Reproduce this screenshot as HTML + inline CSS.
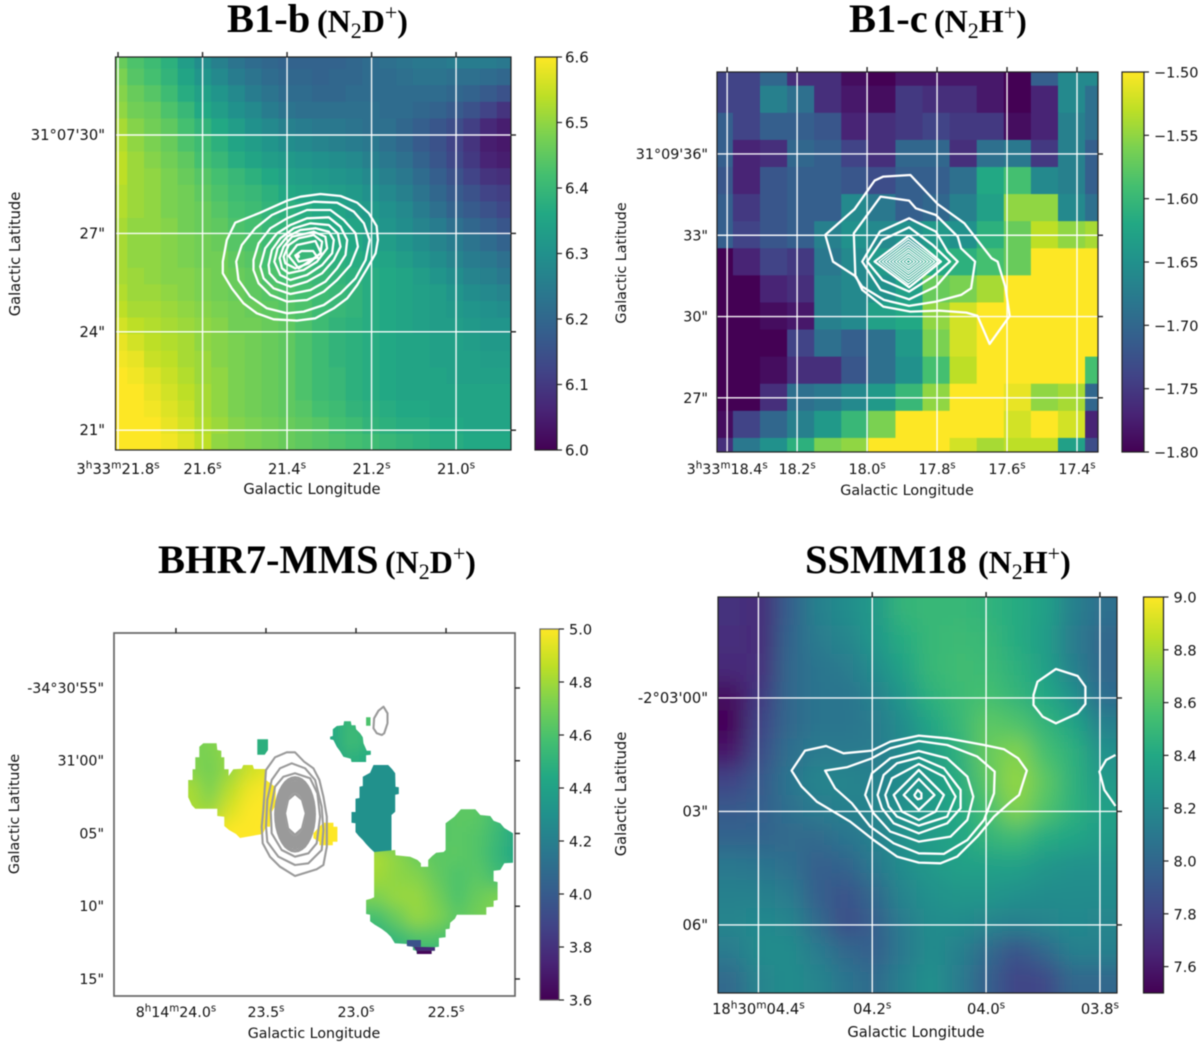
<!DOCTYPE html>
<html lang="en">
<head>
<meta charset="utf-8">
<title>Velocity maps with contours</title>
<style>
html,body{margin:0;padding:0;background:#fff;width:1200px;height:1047px;overflow:hidden}
svg{display:block;filter:blur(0.45px)}
.title{font-family:"Liberation Serif",serif;font-weight:bold;font-size:40.5px;fill:#000}
.mol{font-size:32px}
.sub{font-size:22px;font-weight:normal}
.lab{font-family:"DejaVu Sans",sans-serif;font-size:14.7px;fill:#111}
</style>
</head>
<body>
<svg id="fig" width="1200" height="1047" viewBox="0 0 1200 1047" xmlns="http://www.w3.org/2000/svg">
  <defs id="defs">
    <filter id="blurD" filterUnits="userSpaceOnUse" x="0" y="0" width="1200" height="1047"><feGaussianBlur stdDeviation="11"/></filter>
    <filter id="blurC" filterUnits="userSpaceOnUse" x="0" y="0" width="1200" height="1047"><feGaussianBlur stdDeviation="8"/></filter>
  </defs>
  <text class="title" x="227" y="32">B1-b<tspan class="mol" x="317">(N<tspan dy="6" class="sub">2</tspan><tspan dy="-6">D</tspan><tspan dy="-12" class="sub">+</tspan><tspan dy="12">)</tspan></tspan></text>
  <text class="title" x="849" y="32">B1-c<tspan class="mol" x="934">(N<tspan dy="6" class="sub">2</tspan><tspan dy="-6">H</tspan><tspan dy="-12" class="sub">+</tspan><tspan dy="12">)</tspan></tspan></text>
  <text class="title" x="158" y="573">BHR7-MMS<tspan class="mol" x="385">(N<tspan dy="6" class="sub">2</tspan><tspan dy="-6">D</tspan><tspan dy="-12" class="sub">+</tspan><tspan dy="12">)</tspan></tspan></text>
  <text class="title" x="805" y="573">SSMM18<tspan class="mol" x="978">(N<tspan dy="6" class="sub">2</tspan><tspan dy="-6">H</tspan><tspan dy="-12" class="sub">+</tspan><tspan dy="12">)</tspan></tspan></text>
</svg>
<script>
// ---------- Panel A (B1-b) data ----------
const aMatrix = [
[6.46,6.43,6.41,6.38,6.33,6.29,6.26,6.23,6.21,6.20,6.19,6.19,6.19,6.19,6.20,6.21,6.22,6.23,6.24,6.24,6.25,6.25,6.25,6.24],
[6.48,6.44,6.42,6.39,6.35,6.31,6.28,6.25,6.23,6.21,6.20,6.20,6.19,6.20,6.20,6.21,6.21,6.22,6.23,6.23,6.22,6.22,6.21,6.20],
[6.49,6.46,6.44,6.41,6.37,6.34,6.31,6.28,6.25,6.23,6.21,6.21,6.20,6.20,6.21,6.21,6.21,6.21,6.21,6.21,6.20,6.19,6.17,6.15],
[6.50,6.47,6.46,6.43,6.40,6.36,6.33,6.30,6.28,6.25,6.23,6.22,6.22,6.22,6.22,6.22,6.21,6.21,6.20,6.19,6.17,6.15,6.12,6.09],
[6.52,6.49,6.47,6.45,6.42,6.39,6.36,6.33,6.30,6.28,6.26,6.25,6.24,6.24,6.23,6.22,6.22,6.20,6.18,6.16,6.14,6.11,6.07,6.05],
[6.53,6.50,6.48,6.46,6.43,6.41,6.38,6.35,6.33,6.31,6.29,6.28,6.27,6.26,6.25,6.24,6.22,6.20,6.17,6.15,6.12,6.09,6.05,6.04],
[6.54,6.51,6.49,6.47,6.45,6.42,6.40,6.37,6.35,6.33,6.32,6.31,6.30,6.29,6.28,6.26,6.24,6.22,6.19,6.16,6.13,6.10,6.06,6.05],
[6.54,6.51,6.50,6.48,6.46,6.44,6.42,6.40,6.38,6.36,6.34,6.33,6.32,6.31,6.30,6.28,6.26,6.24,6.21,6.18,6.15,6.12,6.09,6.08],
[6.53,6.51,6.50,6.48,6.47,6.45,6.43,6.41,6.40,6.38,6.36,6.35,6.34,6.33,6.32,6.30,6.28,6.26,6.23,6.20,6.17,6.15,6.12,6.11],
[6.53,6.51,6.50,6.48,6.47,6.46,6.44,6.42,6.41,6.39,6.38,6.37,6.36,6.35,6.33,6.32,6.30,6.28,6.25,6.22,6.19,6.17,6.15,6.13],
[6.52,6.50,6.50,6.49,6.47,6.46,6.45,6.43,6.42,6.40,6.39,6.38,6.37,6.36,6.35,6.33,6.31,6.29,6.27,6.25,6.22,6.20,6.18,6.16],
[6.52,6.50,6.50,6.49,6.48,6.47,6.46,6.44,6.43,6.41,6.40,6.39,6.38,6.37,6.36,6.34,6.33,6.31,6.29,6.27,6.25,6.23,6.21,6.19],
[6.52,6.50,6.50,6.49,6.48,6.47,6.47,6.45,6.44,6.42,6.41,6.40,6.39,6.38,6.37,6.36,6.35,6.33,6.31,6.29,6.27,6.25,6.24,6.22],
[6.52,6.51,6.50,6.49,6.49,6.48,6.47,6.46,6.45,6.43,6.42,6.41,6.40,6.39,6.38,6.37,6.36,6.35,6.33,6.31,6.29,6.27,6.26,6.24],
[6.53,6.51,6.51,6.50,6.49,6.48,6.47,6.46,6.45,6.44,6.43,6.42,6.41,6.40,6.39,6.37,6.36,6.35,6.34,6.33,6.31,6.29,6.28,6.27],
[6.54,6.52,6.52,6.51,6.50,6.49,6.48,6.47,6.46,6.45,6.44,6.43,6.41,6.40,6.39,6.37,6.36,6.35,6.34,6.33,6.32,6.31,6.30,6.29],
[6.56,6.54,6.53,6.52,6.51,6.50,6.49,6.47,6.47,6.46,6.45,6.43,6.41,6.39,6.38,6.37,6.36,6.35,6.34,6.33,6.33,6.32,6.31,6.31],
[6.58,6.56,6.54,6.53,6.52,6.50,6.49,6.48,6.47,6.46,6.45,6.43,6.41,6.39,6.38,6.37,6.36,6.35,6.35,6.34,6.34,6.33,6.32,6.32],
[6.59,6.58,6.55,6.54,6.52,6.51,6.49,6.48,6.47,6.46,6.45,6.43,6.41,6.39,6.38,6.37,6.36,6.35,6.35,6.34,6.34,6.34,6.33,6.33],
[6.60,6.59,6.57,6.55,6.53,6.51,6.50,6.48,6.47,6.46,6.45,6.43,6.41,6.40,6.38,6.37,6.36,6.35,6.35,6.35,6.34,6.34,6.34,6.34],
[6.60,6.60,6.58,6.56,6.54,6.52,6.50,6.48,6.47,6.46,6.45,6.43,6.41,6.40,6.38,6.37,6.36,6.35,6.35,6.35,6.35,6.35,6.35,6.35],
[6.60,6.60,6.59,6.57,6.55,6.52,6.50,6.48,6.47,6.46,6.45,6.44,6.42,6.41,6.39,6.38,6.37,6.36,6.36,6.35,6.35,6.35,6.35,6.35],
[6.60,6.60,6.60,6.58,6.56,6.53,6.51,6.49,6.48,6.47,6.46,6.45,6.44,6.42,6.41,6.39,6.38,6.37,6.37,6.36,6.36,6.35,6.35,6.35],
[6.60,6.60,6.60,6.59,6.57,6.54,6.50,6.49,6.48,6.47,6.46,6.45,6.44,6.43,6.42,6.41,6.40,6.39,6.38,6.37,6.37,6.36,6.36,6.36]
];
const aXTicks = [21.8,21.6,21.4,21.2,21.0];
const aXLabels = ["3h33m21.8s","21.6s","21.4s","21.2s","21.0s"];
const aYTicks = [30,27,24,21];
const aYLabels = ["31°07'30\"","27\"","24\"","21\""];
const aBarTicks = [6.6,6.5,6.4,6.3,6.2,6.1,6.0];
const aBarLabels = ["6.6","6.5","6.4","6.3","6.2","6.1","6.0"];
// contour vertices: sky offsets from the panel reference position (offset units)
const aContours = [
[[105,98],[180,68],[260,32],[300,20],[360,12],[420,18],[470,38],[505,70],[528,108],[532,150],[525,190],[500,235],[470,285],[440,325],[400,355],[345,385],[290,392],[220,388],[170,370],[130,340],[95,295],[68,250],[68,215],[80,150]],
[[108,215],[125,165],[165,115],[215,75],[260,55],[340,35],[410,38],[460,65],[490,100],[507,150],[495,210],[465,265],[420,310],[370,345],[310,365],[260,370],[200,355],[150,320],[115,270]],
[[160,210],[175,160],[210,115],[260,85],[320,60],[390,60],[430,90],[465,130],[472,170],[450,225],[410,270],[370,305],[320,330],[260,335],[210,315],[175,280],[160,240]],
[[180,230],[195,175],[230,130],[270,105],[320,85],[385,82],[420,110],[440,150],[435,195],[410,235],[375,275],[330,300],[270,312],[220,295],[190,265]],
[[205,225],[215,180],[240,145],[280,115],[330,100],[385,105],[412,130],[420,170],[400,210],[365,250],[320,275],[270,290],[230,275],[208,250]],
[[222,215],[232,175],[260,140],[300,120],[345,115],[385,125],[400,150],[395,190],[365,225],[320,255],[270,270],[240,255]],
[[238,205],[250,170],[275,140],[340,125],[375,140],[380,175],[350,215],[310,240],[265,250],[245,235]],
[[250,200],[265,165],[295,145],[340,135],[365,155],[360,190],[325,220],[285,235],[255,220]],
[[265,198],[290,165],[345,153],[362,190],[295,235]],
[[285,197],[303,183],[338,183],[352,203],[295,215]],
[[291,197],[295,197],[295,201],[291,201]]
];

// ---------- Panel B (B1-c) data ----------
const bMatrix = [
[-1.74,-1.74,-1.70,-1.76,-1.76,-1.79,-1.80,-1.78,-1.78,-1.78,-1.78,-1.80,-1.71,-1.66,-1.66],
[-1.74,-1.74,-1.67,-1.69,-1.76,-1.78,-1.79,-1.75,-1.76,-1.76,-1.78,-1.80,-1.77,-1.66,-1.69],
[-1.71,-1.74,-1.71,-1.71,-1.72,-1.77,-1.76,-1.75,-1.74,-1.75,-1.75,-1.79,-1.77,-1.67,-1.69],
[-1.71,-1.77,-1.76,-1.70,-1.71,-1.74,-1.76,-1.70,-1.70,-1.76,-1.69,-1.68,-1.75,-1.67,-1.71],
[-1.72,-1.77,-1.72,-1.71,-1.71,-1.72,-1.73,-1.71,-1.71,-1.69,-1.62,-1.59,-1.66,-1.67,-1.71],
[-1.71,-1.75,-1.72,-1.71,-1.71,-1.66,-1.68,-1.71,-1.70,-1.67,-1.63,-1.55,-1.55,-1.66,-1.69],
[-1.71,-1.74,-1.72,-1.71,-1.67,-1.65,-1.66,-1.65,-1.64,-1.65,-1.61,-1.57,-1.53,-1.55,-1.54],
[-1.80,-1.77,-1.74,-1.75,-1.68,-1.66,-1.64,-1.63,-1.62,-1.61,-1.59,-1.57,-1.50,-1.50,-1.50],
[-1.80,-1.80,-1.77,-1.76,-1.67,-1.66,-1.65,-1.63,-1.57,-1.56,-1.54,-1.50,-1.50,-1.50,-1.50],
[-1.80,-1.80,-1.79,-1.78,-1.67,-1.66,-1.63,-1.62,-1.55,-1.52,-1.50,-1.50,-1.50,-1.50,-1.50],
[-1.80,-1.80,-1.80,-1.74,-1.69,-1.71,-1.69,-1.64,-1.56,-1.52,-1.50,-1.50,-1.50,-1.50,-1.50],
[-1.80,-1.80,-1.79,-1.76,-1.76,-1.72,-1.69,-1.65,-1.59,-1.53,-1.50,-1.50,-1.50,-1.50,-1.59],
[-1.80,-1.80,-1.76,-1.69,-1.68,-1.66,-1.64,-1.60,-1.55,-1.50,-1.50,-1.51,-1.55,-1.54,-1.70],
[-1.79,-1.74,-1.70,-1.67,-1.64,-1.60,-1.56,-1.50,-1.50,-1.50,-1.50,-1.52,-1.50,-1.52,-1.77],
[-1.76,-1.68,-1.65,-1.61,-1.56,-1.55,-1.50,-1.50,-1.50,-1.52,-1.54,-1.53,-1.53,-1.63,-1.73]
];
const bXTicks = [18.4,18.2,18.0,17.8,17.6,17.4];
const bXLabels = ["3h33m18.4s","18.2s","18.0s","17.8s","17.6s","17.4s"];
const bYTicks = [36,33,30,27];
const bYLabels = ["31°09'36\"","33\"","30\"","27\""];
const bBarTicks = [-1.50,-1.55,-1.60,-1.65,-1.70,-1.75,-1.80];
const bBarLabels = ["−1.50","−1.55","−1.60","−1.65","−1.70","−1.75","−1.80"];
const bContours = [
[[75,135],[98,215],[167,260],[185,300],[248,350],[329,365],[415,362],[496,368],[529,378],[565,462],[625,378],[612,290],[589,215],[571,205],[490,100],[410,42],[329,-45],[248,-40],[222,-28],[162,58]],
[[240,20],[325,32],[345,55],[405,75],[470,140],[480,175],[522,215],[510,295],[480,315],[405,335],[325,348],[250,330],[185,290],[165,260],[160,130]],
[[185,215],[238,125],[325,85],[405,125],[440,185],[470,215],[405,290],[325,328],[240,300]],
[[200,215],[245,150],[325,112],[395,165],[447,215],[395,260],[325,305],[245,270]],
[[222,215],[325,137],[420,215],[325,292]]
];
const bDiamondCenter = [323,215];
const bDiamondHalfX = [88,78,68,58,48,38,28,18,8];
const bDiamondHalfY = [68,60,52,44,36,29,21,14,6];

// ---------- Panel C (BHR7-MMS) data ----------
const cXTicks = [24.0,23.5,23.0,22.5];
const cXLabels = ["8h14m24.0s","23.5s","23.0s","22.5s"];
const cYTicks = [55,60,65,70,75];
const cYLabels = ["-34°30'55\"","31'00\"","05\"","10\"","15\""];
const cBarTicks = [5.0,4.8,4.6,4.4,4.2,4.0,3.8,3.6];
const cBarLabels = ["5.0","4.8","4.6","4.4","4.2","4.0","3.8","3.6"];
const cBlobLeftOutline = [[25,240],[38,240],[38,208],[46,208],[46,172],[58,172],[58,140],[70,130],[110,130],[112,150],[124,152],[124,172],[133,172],[133,208],[146,208],[146,228],[160,208],[185,206],[190,195],[218,195],[222,207],[258,207],[258,240],[287,262],[287,315],[270,345],[270,380],[258,380],[248,402],[180,414],[168,402],[147,390],[133,378],[133,350],[112,348],[112,326],[46,326],[36,316],[25,292]];
const cBlobLeftValues = [[4.72,4.72,4.78,4.85,4.90],[4.75,4.70,4.78,4.90,4.95],[4.82,4.72,4.85,4.97,5.00],[4.82,4.78,4.92,5.00,5.00],[4.90,4.90,5.00,5.00,5.00]];
const cBlobDotOutline = [[430,368],[460,368],[460,380],[472,380],[472,425],[458,425],[458,436],[418,436],[418,425],[400,415],[400,400],[418,380]];
const cBlobDotValues = [[5.0]];
const cBlobSquareOutline = [[232,118],[264,118],[264,150],[254,164],[232,164]];
const cBlobSquareValues = [[4.48]];
const cBlobBarOutline = [[558,52],[571,52],[571,77],[558,77]];
const cBlobBarValues = [[4.6]];
const cBlobTopOutline = [[458,88],[470,78],[490,76],[492,64],[512,64],[514,76],[526,76],[528,88],[540,100],[548,112],[550,130],[560,152],[572,152],[572,164],[558,166],[558,186],[514,186],[512,176],[490,170],[480,154],[470,140],[460,120],[450,118],[450,110],[458,108]];
const cBlobTopValues = [[4.45,4.55,4.50],[4.42,4.58,4.52],[4.42,4.50,4.45]];
const cBlobTealOutline = [[580,195],[624,195],[636,208],[645,220],[646,260],[656,262],[656,282],[645,284],[645,335],[634,345],[634,456],[582,456],[570,445],[558,432],[548,420],[536,408],[526,396],[526,370],[514,368],[514,336],[526,336],[526,296],[538,294],[538,260],[548,258],[548,230],[570,218]];
const cBlobTealValues = [[4.3]];
const cBlobBigOutline = [[582,456],[645,450],[646,466],[690,470],[712,480],[722,490],[722,500],[744,500],[744,480],[756,468],[768,458],[790,456],[796,450],[796,370],[822,350],[842,328],[885,328],[900,345],[930,348],[940,362],[960,370],[972,384],[998,400],[998,488],[972,490],[960,510],[940,512],[940,544],[952,546],[952,600],[940,602],[940,620],[918,622],[918,644],[830,644],[824,656],[810,668],[808,686],[796,688],[796,712],[776,714],[776,740],[764,742],[764,752],[754,752],[754,762],[710,762],[708,752],[698,750],[698,740],[680,738],[680,732],[644,730],[632,710],[620,698],[604,686],[584,674],[570,664],[570,644],[558,642],[558,600],[572,596],[582,592]];
const cBlobBigValues = [
[4.60,4.60,4.60,4.62,4.64,4.64,4.56,4.45],
[4.60,4.60,4.60,4.62,4.64,4.62,4.54,4.43],
[4.82,4.76,4.68,4.64,4.64,4.62,4.52,4.43],
[4.80,4.76,4.74,4.66,4.60,4.64,4.57,4.50],
[4.72,4.78,4.78,4.70,4.60,4.67,4.72,4.72],
[4.58,4.68,4.78,4.73,4.64,4.70,4.74,4.72],
[4.48,4.55,4.62,4.62,4.58,4.60,4.60,4.60],
[4.45,4.45,4.50,4.50,4.45,4.45,4.45,4.45]
];
const cTipAOutline = [[680,720],[722,720],[722,740],[698,740],[680,738]];
const cTipAValues = [[3.95]];
const cTipBOutline = [[700,740],[764,742],[764,752],[708,752]];
const cTipBValues = [[3.76]];
const cTipCOutline = [[710,752],[754,752],[754,762],[710,762]];
const cTipCValues = [[3.62]];
const cContours = [
[[258,210],[285,172],[320,157],[345,157],[372,185],[400,205],[418,240],[430,290],[440,350],[440,440],[430,495],[410,508],[345,528],[300,500],[270,470],[248,430],[245,380],[250,330]],
[[275,240],[300,205],[335,190],[375,205],[405,240],[425,320],[430,390],[425,450],[385,490],[345,495],[295,470],[262,425],[258,380],[262,300]],
[[285,260],[310,230],[345,220],[390,235],[412,280],[420,350],[410,430],[385,460],[345,470],[305,450],[275,400],[272,330]],
[[610,20],[622,40],[622,70],[612,100],[605,105],[590,100],[580,85],[582,55],[595,32]]
];
const cPeakContour = [[345,283],[365,300],[376,340],[365,385],[345,403],[325,385],[316,340],[325,300]];
const cRingCenter = [345,343];
const cRingSemiX = [60,57,54,51,48,45,42,39,36,33];
const cRingSemiY = [112,107,102,97,92,88,83,78,74,69];

// ---------- Panel D (SSMM18) data ----------
const dMatrix = [
[7.72,7.68,7.95,8.15,8.22,8.30,8.48,8.50,8.50,8.47,8.42,8.35,8.15,8.05],
[7.70,7.68,7.98,8.12,8.18,8.28,8.42,8.50,8.52,8.50,8.42,8.33,8.12,8.00],
[7.68,7.70,8.00,8.08,8.12,8.22,8.36,8.50,8.53,8.52,8.45,8.35,8.15,8.00],
[7.55,7.75,8.00,8.08,8.08,8.15,8.28,8.45,8.52,8.55,8.48,8.40,8.25,8.03],
[7.52,7.80,8.00,8.08,8.08,8.12,8.22,8.38,8.50,8.62,8.58,8.48,8.38,8.15],
[7.60,7.85,8.05,8.12,8.12,8.12,8.20,8.32,8.45,8.65,8.72,8.55,8.45,8.25],
[7.80,7.92,8.08,8.18,8.18,8.15,8.22,8.30,8.42,8.62,8.76,8.62,8.45,8.30],
[7.92,7.95,8.05,8.12,8.15,8.18,8.25,8.30,8.40,8.55,8.72,8.58,8.45,8.35],
[7.98,7.98,8.02,8.02,8.08,8.15,8.25,8.32,8.38,8.48,8.52,8.42,8.38,8.32],
[8.10,8.08,8.05,7.95,7.98,8.10,8.22,8.30,8.35,8.35,8.35,8.28,8.25,8.25],
[8.15,8.15,8.12,7.95,7.88,8.00,8.18,8.25,8.28,8.28,8.25,8.22,8.22,8.22],
[8.18,8.20,8.18,8.02,7.85,7.95,8.12,8.22,8.22,8.18,8.15,8.18,8.20,8.18],
[8.12,8.22,8.22,8.12,8.00,7.95,8.10,8.22,8.15,8.02,7.88,8.00,8.15,8.15],
[8.02,8.18,8.22,8.18,8.08,8.02,8.15,8.25,8.12,7.95,7.80,7.82,8.00,8.00]
];
const dXTicks = [4.4,4.2,4.0,3.8];
const dXLabels = ["18h30m04.4s","04.2s","04.0s","03.8s"];
const dYTicks = [0,3,6];
const dYLabels = ["-2°03'00\"","03\"","06\""];
const dBarTicks = [9.0,8.8,8.6,8.4,8.2,8.0,7.8,7.6];
const dBarLabels = ["9.0","8.8","8.6","8.4","8.2","8.0","7.8","7.6"];
const dContours = [
[[35,272],[75,212],[138,198],[190,220],[275,212],[330,185],[415,167],[500,175],[610,195],[670,208],[712,235],[738,272],[715,345],[690,365],[640,410],[590,470],[530,530],[480,550],[415,548],[350,530],[280,480],[210,425],[160,395],[110,365],[65,320]],
[[135,272],[200,262],[275,235],[330,205],[415,183],[500,195],[590,230],[642,275],[640,340],[610,420],[560,480],[490,522],[415,520],[340,490],[270,440],[215,370],[165,325]],
[[255,345],[275,280],[330,235],[415,213],[500,235],[560,290],[578,350],[560,420],[510,470],[415,485],[330,455],[280,400]],
[[292,345],[310,285],[350,250],[415,233],[490,265],[540,330],[540,385],[500,430],[415,460],[340,430],[305,385]],
[[315,345],[335,295],[415,252],[490,290],[525,350],[500,410],[415,437],[350,410],[325,380]],
[[340,345],[415,270],[490,345],[465,395],[415,420],[365,395]],
[[370,345],[415,297],[462,345],[415,390]],
[[402,345],[412,330],[423,340],[423,355],[412,358],[404,350]],
[[758,45],[770,5],[825,-33],[890,-12],[913,20],[913,72],[890,100],[825,130],[785,110],[758,75]]
];
const dContourOpen = [[1003,225],[975,240],[955,275],[970,330],[1003,378]];

// ---------- Rendering ----------
const VIRIDIS = ["#440154","#482475","#414487","#355f8d","#2a788e","#21918c","#22a884","#44bf70","#7ad151","#bddf26","#fde725"];
const svg = document.getElementById('fig');
const defs = document.getElementById('defs');
const NS = 'http://www.w3.org/2000/svg';

function hexRgb(h){return [parseInt(h.slice(1,3),16),parseInt(h.slice(3,5),16),parseInt(h.slice(5,7),16)];}
function cmap(v,min,max){
  let t=Math.max(0,Math.min(1,(v-min)/(max-min)))*10;
  const i=Math.min(9,Math.floor(t));t-=i;
  const a=hexRgb(VIRIDIS[i]),b=hexRgb(VIRIDIS[i+1]);
  return 'rgb('+a.map((c,k)=>Math.round(c+(b[k]-c)*t)).join(',')+')';
}
function mk(tag,attrs,parent){
  const el=document.createElementNS(NS,tag);
  for(const k in attrs){el.setAttribute(k,attrs[k]);}
  if(parent){parent.appendChild(el);}
  return el;
}
function xAxis(p){return v=>p.left+(v-p.raL)/(p.raR-p.raL)*(p.right-p.left);}
function yAxis(p){return v=>p.top+(v-p.decT)/(p.decB-p.decT)*(p.bottom-p.top);}
function offsetPoint(p,o){
  const ra=p.refRA-o[0]*p.unit/(15*p.cosDec);
  const dec=p.refDec+p.decDir*o[1]*p.unit;
  return [xAxis(p)(ra),yAxis(p)(dec)];
}
function pointsAttr(p,list){return list.map(o=>{const q=offsetPoint(p,o);return q[0].toFixed(1)+','+q[1].toFixed(1);}).join(' ');}

function panelGroup(p){
  const g=mk('g',{},svg);
  
  
  const cp=mk('clipPath',{id:p.id+'-clip'},defs);
  mk('rect',{x:p.left,y:p.top,width:p.right-p.left,height:p.bottom-p.top},cp);
  return g;
}
function drawMatrix(g,p,matrix,ra0,dRA,dec0,dDec,margin){
  const X=xAxis(p),Y=yAxis(p);
  matrix.forEach((row,j)=>row.forEach((v,i)=>{
    let x1=X(ra0-i*dRA),x2=X(ra0-(i+1)*dRA),y1=Y(dec0+p.decDir*j*dDec),y2=Y(dec0+p.decDir*(j+1)*dDec);
    if(i===0)x1-=margin;
    if(i===row.length-1)x2+=margin;
    if(j===0)y1-=margin;
    if(j===matrix.length-1)y2+=margin;
    const r=mk('rect',{x:x1,y:y1,width:x2-x1+0.6,height:y2-y1+0.6,fill:cmap(v,p.min,p.max)},g);
    
    
  }));
}
function drawContours(g,p,list,stroke,width){
  list.forEach(c=>{
    const e=mk('polygon',{points:pointsAttr(p,c),fill:'none',stroke:stroke,'stroke-width':width,'stroke-linejoin':'round'},g);
    
    
  });
}
function drawGrid(g,p){
  const X=xAxis(p),Y=yAxis(p);
  p.xTicks.forEach(v=>{
    const l=mk('line',{x1:X(v),x2:X(v),y1:p.top,y2:p.bottom,stroke:'#fff','stroke-width':1.4,'stroke-opacity':0.95},g);
    
    
  });
  p.yTicks.forEach(v=>{
    const l=mk('line',{x1:p.left,x2:p.right,y1:Y(v),y2:Y(v),stroke:'#fff','stroke-width':1.4,'stroke-opacity':0.95},g);
    
    
  });
}
function addLabel(g,str,x,y,anchor,size){
  const t=mk('text',{x:x,y:y,'text-anchor':anchor,class:'lab',style:'font-size:'+size+'px'},g);
  const parts=str.split(/([hms])(?=\d|$)/);
  let raised=false;
  parts.forEach(s=>{
    if(!s)return;
    const sup=(s==='h'||s==='m'||s==='s');
    const ts=mk('tspan',{},t);
    if(sup){ts.setAttribute('dy',-5.5);ts.setAttribute('style','font-size:'+(size*0.72)+'px');raised=true;}
    else if(raised){ts.setAttribute('dy',5.5);raised=false;}
    ts.textContent=s;
  });
  return t;
}
function drawAxes(g,p){
  const X=xAxis(p),Y=yAxis(p);
  const frame=mk('rect',{x:p.left,y:p.top,width:p.right-p.left,height:p.bottom-p.top,fill:'none',stroke:p.frame,'stroke-width':p.frameW},g);
  
  
  p.xTicks.forEach((v,i)=>{
    const top=mk('line',{x1:X(v),x2:X(v),y1:p.top-5,y2:p.top,stroke:'#222','stroke-width':1.4},g);
    
    
    const lab=addLabel(g,p.xLabels[i],X(v),p.xLabelY,'middle',p.font);
    
    
  });
  p.yTicks.forEach((v,i)=>{
    const tick=mk('line',{x1:p.right,x2:p.right+5,y1:Y(v),y2:Y(v),stroke:'#222','stroke-width':1.4},g);
    
    
    const lab=addLabel(g,p.yLabels[i],p.yLabelX,Y(v)+5,'end',p.font);
    
    
  });
  const xt=mk('text',{x:p.xTitleX,y:p.xTitleY,'text-anchor':'middle',class:'lab',style:'font-size:'+p.font+'px'},g);
  xt.textContent='Galactic Longitude';
  
  
  const yt=mk('text',{x:0,y:0,'text-anchor':'middle',class:'lab',style:'font-size:'+p.font+'px',transform:'translate('+p.yTitleX+','+p.yTitleY+') rotate(-90)'},g);
  yt.textContent='Galactic Latitude';
  
  
}
function drawColorbar(g,p){
  const b=p.bar;
  const h=b.bottom-b.top;
  const cy=v=>b.bottom-(v-p.min)/(p.max-p.min)*h;
  const gr=mk('linearGradient',{id:p.id+'-grad',x1:0,y1:1,x2:0,y2:0},defs);
  VIRIDIS.forEach((c,i)=>{mk('stop',{offset:i/10,'stop-color':c},gr);});
  const bg=mk('g',{},g);
  
  
  mk('rect',{x:b.left,y:b.top,width:b.right-b.left,height:h,fill:'url(#'+p.id+'-grad)',stroke:p.frame,'stroke-width':1.2},bg);
  p.barTicks.forEach((v,i)=>{
    const t=mk('line',{x1:b.right,x2:b.right+5,y1:cy(v),y2:cy(v),stroke:'#222','stroke-width':1.2},bg);
    
    
    const l=mk('text',{x:b.right+b.pad,y:cy(v)+5.5,class:'lab',style:'font-size:'+b.font+'px'},bg);
    l.textContent=p.barLabels[i];
    
    
  });
}

// Panel A
const pA={id:'pA',name:'panel-b1-b',left:115.5,right:511,top:57,bottom:450,raL:21.806,raR:20.870,decT:32.378,decB:20.396,decDir:-1,
  refRA:21.6059,refDec:28.323,unit:0.01016,cosDec:0.856,min:6.0,max:6.6,xTicks:aXTicks,xLabels:aXLabels,yTicks:aYTicks,yLabels:aYLabels,
  barTicks:aBarTicks,barLabels:aBarLabels,frame:'#222',frameW:1.2,font:14.7,xLabelY:474,yLabelX:105,xTitleX:312,xTitleY:494,yTitleX:20,yTitleY:254,
  bar:{left:535,right:557,top:57,bottom:450,pad:8,font:15}};
{
  const g=panelGroup(pA);
  const img=mk('g',{'clip-path':'url(#pA-clip)'},g);
  drawMatrix(img,pA,aMatrix,21.818,0.03976,32.53,0.506,0);
  drawContours(img,pA,aContours,'#fff',2.3);
  drawGrid(img,pA);
  drawAxes(g,pA);
  drawColorbar(g,pA);
}
// Panel B
const pB={id:'pB',name:'panel-b1-c',left:717,right:1098,top:72,bottom:452,raL:18.429,raR:17.34,decT:39.026,decB:25.0,decDir:-1,
  refRA:18.1914,refDec:34.672,unit:0.0123,cosDec:0.8557,min:-1.8,max:-1.5,xTicks:bXTicks,xLabels:bXLabels,yTicks:bYTicks,yLabels:bYLabels,
  barTicks:bBarTicks,barLabels:bBarLabels,frame:'#222',frameW:1.2,font:14.3,xLabelY:474,yLabelX:708,xTitleX:907,xTitleY:495,yTitleX:626,yTitleY:263,
  bar:{left:1122,right:1144,top:72,bottom:452,pad:10,font:14.5}};
{
  const g=panelGroup(pB);
  const img=mk('g',{'clip-path':'url(#pB-clip)'},g);
  drawMatrix(img,pB,bMatrix,18.461,0.07743,39.52,1.0,0);
  drawContours(img,pB,bContours,'#fff',2.3);
  bDiamondHalfX.forEach((hx,i)=>{
    const hy=bDiamondHalfY[i],c=bDiamondCenter;
    const d=mk('polygon',{points:pointsAttr(pB,[[c[0]-hx,c[1]],[c[0],c[1]-hy],[c[0]+hx,c[1]],[c[0],c[1]+hy]]),fill:'none',stroke:'#fff','stroke-width':1.3},img);
    
    
  });
  drawGrid(img,pB);
  drawAxes(g,pB);
  drawColorbar(g,pB);
}
// Panel C
const pC={id:'pC',name:'panel-bhr7-mms',left:114,right:515,top:633,bottom:996,raL:24.344,raR:22.117,decT:51.22,decB:76.17,decDir:1,
  refRA:23.978,refDec:55.825,unit:0.02291,cosDec:0.824,min:3.6,max:5.0,xTicks:cXTicks,xLabels:cXLabels,yTicks:cYTicks,yLabels:cYLabels,
  barTicks:cBarTicks,barLabels:cBarLabels,frame:'#666',frameW:1.7,font:14.2,xLabelY:1017,yLabelX:104,xTitleX:314,xTitleY:1038,yTitleX:19,yTitleY:814,
  bar:{left:540,right:559,top:629,bottom:1000,pad:10,font:14.5}};
const cBlobs=[
  {name:'blob-left',outline:cBlobLeftOutline,values:cBlobLeftValues,x0:0,y0:120,cell:60},
  {name:'blob-right-dot',outline:cBlobDotOutline,values:cBlobDotValues,x0:400,y0:368,cell:70},
  {name:'blob-square',outline:cBlobSquareOutline,values:cBlobSquareValues,x0:232,y0:118,cell:40},
  {name:'blob-bar',outline:cBlobBarOutline,values:cBlobBarValues,x0:558,y0:52,cell:25},
  {name:'blob-top',outline:cBlobTopOutline,values:cBlobTopValues,x0:440,y0:60,cell:45},
  {name:'blob-teal',outline:cBlobTealOutline,values:cBlobTealValues,x0:514,y0:195,cell:260},
  {name:'blob-big',outline:cBlobBigOutline,values:cBlobBigValues,x0:560,y0:320,cell:60},
  {name:'blob-tip-a',outline:cTipAOutline,values:cTipAValues,x0:680,y0:720,cell:42},
  {name:'blob-tip-b',outline:cTipBOutline,values:cTipBValues,x0:700,y0:740,cell:64},
  {name:'blob-tip-c',outline:cTipCOutline,values:cTipCValues,x0:710,y0:752,cell:44}
];
{
  const g=panelGroup(pC);
  const img=mk('g',{'clip-path':'url(#pC-clip)'},g);
  cBlobs.forEach((b,n)=>{
    const cp=mk('clipPath',{id:'pC-blob'+n},defs);
    mk('polygon',{points:pointsAttr(pC,b.outline)},cp);
    const outer=mk('g',{'clip-path':'url(#pC-blob'+n+')'},img);
    
    
    const inner=mk('g',{filter:b.values.length>1?'url(#blurC)':'none'},outer);
    b.values.forEach((row,j)=>row.forEach((v,i)=>{
      let p1=offsetPoint(pC,[b.x0+i*b.cell,b.y0+j*b.cell]);
      let p2=offsetPoint(pC,[b.x0+(i+1)*b.cell,b.y0+(j+1)*b.cell]);
      const m=30;
      const x1=i===0?p1[0]-m:p1[0],y1=j===0?p1[1]-m:p1[1];
      const x2=i===row.length-1?p2[0]+m:p2[0],y2=j===b.values.length-1?p2[1]+m:p2[1];
      const r=mk('rect',{x:x1,y:y1,width:x2-x1+0.6,height:y2-y1+0.6,fill:cmap(v,pC.min,pC.max)},inner);
      
      
    }));
  });
  drawContours(img,pC,cContours,'#9a9a9a',2.1);
  cRingSemiX.forEach((sx,i)=>{
    const sy=cRingSemiY[i];
    const pts=[];
    for(let a=0;a<36;a++){
      const t=a/36*2*Math.PI;
      pts.push([cRingCenter[0]+sx*Math.cos(t),cRingCenter[1]+sy*Math.sin(t)]);
    }
    const e=mk('polygon',{points:pointsAttr(pC,pts),fill:i>2?'#a0a0a0':'none',stroke:'#9a9a9a','stroke-width':1.8},img);
    
    
  });
  const peak=mk('polygon',{points:pointsAttr(pC,cPeakContour),fill:'#fff',stroke:'#9a9a9a','stroke-width':1.4},img);
  
  
  drawAxes(g,pC);
  drawColorbar(g,pC);
}
// Panel D
const pD={id:'pD',name:'panel-ssmm18',left:718,right:1117,top:597,bottom:993,raL:4.471,raR:3.770,decT:-2.67,decB:7.8,decDir:1,
  refRA:4.3622,refDec:-0.4758,unit:0.008811,cosDec:0.99936,min:7.5,max:9.0,xTicks:dXTicks,xLabels:dXLabels,yTicks:dYTicks,yLabels:dYLabels,
  barTicks:dBarTicks,barLabels:dBarLabels,frame:'#222',frameW:1.2,font:14.7,xLabelY:1014,yLabelX:708,xTitleX:916,xTitleY:1037,yTitleX:626,yTitleY:794,
  bar:{left:1143.5,right:1163.5,top:597,bottom:993,pad:10,font:14.5}};
{
  const g=panelGroup(pD);
  const img=mk('g',{'clip-path':'url(#pD-clip)'},g);
  const blur=mk('g',{filter:'url(#blurD)'},img);
  drawMatrix(blur,pD,dMatrix,4.471,0.0499,-2.67,0.748,40);
  drawContours(img,pD,dContours,'#fff',2.3);
  const open=mk('polyline',{points:pointsAttr(pD,dContourOpen),fill:'none',stroke:'#fff','stroke-width':2.3},img);
  
  
  drawGrid(img,pD);
  drawAxes(g,pD);
  drawColorbar(g,pD);
}
</script>
</body>
</html>
